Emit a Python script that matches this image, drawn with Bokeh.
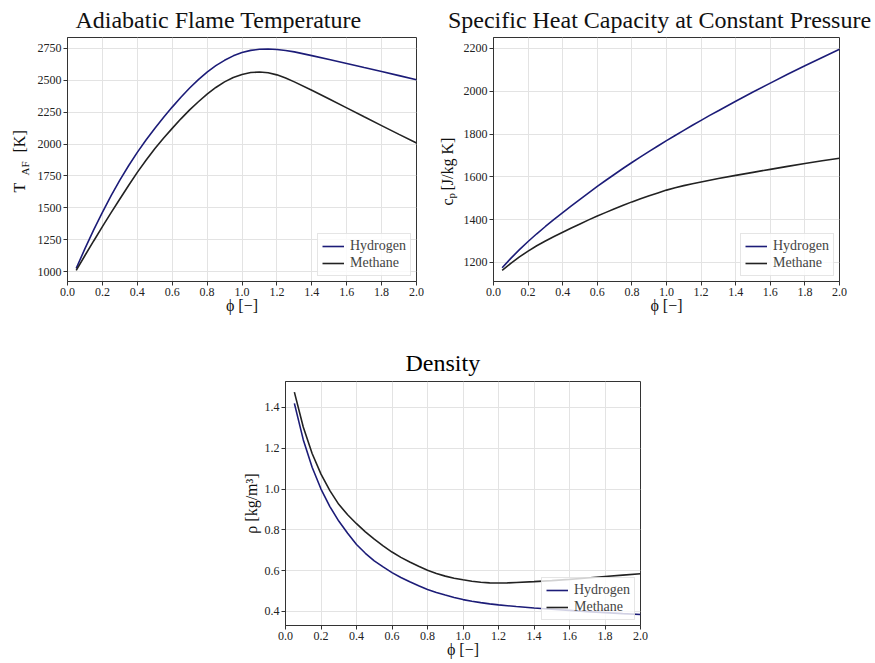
import math
from bokeh.plotting import figure
from bokeh.models import Range1d, FixedTicker, PrintfTickFormatter, Spacer
from bokeh.core.properties import value
from bokeh.layouts import column, row
from bokeh.embed import file_html
from bokeh.resources import INLINE

# ---------------- data ----------------
phi = [0.05, 0.1, 0.15, 0.2, 0.25, 0.3, 0.35, 0.4,
       0.45, 0.5, 0.55, 0.6, 0.65, 0.7, 0.75, 0.8, 0.85, 0.9, 0.95,
       1.0, 1.05, 1.1, 1.15, 1.2, 1.25, 1.3,
       1.4, 1.5, 1.6, 1.7, 1.8, 1.9, 2.0]

taf_hydrogen = [1025, 1180, 1327, 1465, 1595, 1717, 1830, 1935,
                2032, 2122, 2208, 2290, 2367, 2440, 2506, 2565, 2615, 2657, 2692,
                2718, 2735, 2744, 2746, 2742, 2734, 2723,
                2694, 2663, 2632, 2600, 2569, 2537, 2505]
taf_methane = [1010, 1126, 1240, 1352, 1462, 1569, 1675, 1778,
               1873, 1963, 2045, 2123, 2198, 2268, 2332, 2392, 2444, 2488, 2522,
               2546, 2561, 2565, 2559, 2543, 2518, 2488,
               2422, 2353, 2284, 2214, 2145, 2076, 2008]

cp_hydrogen = [1175, 1219, 1260, 1298, 1334, 1368, 1401, 1433,
               1464, 1495, 1525, 1555, 1584, 1612, 1640, 1667, 1693, 1719, 1744,
               1769, 1793, 1817, 1841, 1864, 1887, 1909,
               1953, 1996, 2038, 2079, 2119, 2158, 2196]
cp_methane = [1163, 1196, 1226, 1253, 1278, 1300, 1321, 1341,
              1361, 1380, 1399, 1417, 1434, 1451, 1467, 1483, 1498, 1512, 1525,
              1538, 1549, 1559, 1568, 1576, 1584, 1592,
              1607, 1621, 1635, 1649, 1662, 1675, 1687]

rho_hydrogen = [1.42, 1.242, 1.107, 1.0, 0.914, 0.843, 0.783, 0.728,
                0.685, 0.648, 0.618, 0.59, 0.566, 0.545, 0.526, 0.508, 0.493, 0.48, 0.468,
                0.458, 0.45, 0.443, 0.437, 0.432, 0.428, 0.424,
                0.417, 0.411, 0.405, 0.399, 0.394, 0.389, 0.385]
rho_methane = [1.475, 1.304, 1.174, 1.073, 0.992, 0.925, 0.874, 0.830,
               0.790, 0.754, 0.721, 0.691, 0.665, 0.642, 0.621, 0.602, 0.586, 0.573, 0.563,
               0.555, 0.548, 0.543, 0.540, 0.539, 0.540, 0.542,
               0.546, 0.551, 0.557, 0.564, 0.571, 0.578, 0.585]

x_ticks = [0.0, 0.2, 0.4, 0.6, 0.8, 1.0, 1.2, 1.4, 1.6, 1.8, 2.0]
taf_ticks = [1000, 1250, 1500, 1750, 2000, 2250, 2500, 2750]
cp_ticks = [1200, 1400, 1600, 1800, 2000, 2200]
rho_ticks = [0.4, 0.6, 0.8, 1.0, 1.2, 1.4]

titles = ["Adiabatic Flame Temperature", "Specific Heat Capacity at Constant Pressure", "Density"]
series_names = ["Hydrogen", "Methane"]
series_colors = ["#1c1c78", "#222222"]

FONT = "Liberation Serif"


def bare(width, height, bottom=0):
    """A figure without axes, grid or outline whose data units are pixels of its frame."""
    h = figure(width=width, height=height, output_backend="svg", toolbar_location=None,
               title=None, x_axis_location=None, y_axis_location=None,
               x_range=Range1d(0, width), y_range=Range1d(0, height - bottom),
               min_border_left=0, min_border_right=0, min_border_top=0, min_border_bottom=bottom)
    h.xgrid.visible = False
    h.ygrid.visible = False
    h.outline_line_color = None
    h.border_fill_color = "white"
    h.background_fill_color = "white"
    return h


def put_text(h, text, x, y, size, angle=0.0, align="left"):
    h.text(x=[x], y=[y], text=[text], angle=angle,
           text_font=value(FONT), text_font_size=value(size),
           text_align=align, text_baseline="middle", text_color="#111111")


def make_fig(yvals, ylim, yticks, yfmt, width, height, bl, br, bt, bb, title=None, ylabel=None):
    p = figure(width=width, height=height, output_backend="svg", toolbar_location=None,
               x_range=Range1d(0, 2.0), y_range=Range1d(*ylim), title=title,
               min_border_left=bl, min_border_right=br, min_border_top=bt, min_border_bottom=bb)
    if title:
        p.title.text_font = FONT
        p.title.text_font_size = "24px"
        p.title.text_font_style = "normal"
        p.title.text_color = "#000000"
        p.title.align = "center"
        p.title.standoff = 11
    for vals, name, col in zip(yvals, series_names, series_colors):
        p.line(phi, vals, line_color=col, line_width=1.6, legend_label=name)

    p.xaxis.ticker = FixedTicker(ticks=x_ticks)
    p.xaxis.formatter = PrintfTickFormatter(format="%.1f")
    p.yaxis.ticker = FixedTicker(ticks=yticks)
    p.yaxis.formatter = PrintfTickFormatter(format=yfmt)
    for ax in (p.xaxis[0], p.yaxis[0]):
        ax.major_label_text_font = FONT
        ax.major_label_text_font_size = "12px"
        ax.major_label_text_color = "#222222"
        ax.axis_line_color = "#333333"
        ax.major_tick_line_color = "#333333"
        ax.major_tick_out = 4
        ax.major_tick_in = 0
        ax.minor_tick_line_color = None
        ax.axis_label_text_font = FONT
        ax.axis_label_text_font_size = "16px"
        ax.axis_label_text_font_style = "normal"
        ax.axis_label_text_color = "#111111"
        ax.major_label_standoff = 2
    p.xaxis.axis_label = "ϕ [−]"
    p.xaxis.axis_label_standoff = -2
    if ylabel:
        p.yaxis.axis_label = ylabel
        p.yaxis.axis_label_standoff = 2
    p.xgrid.grid_line_color = "#e3e3e3"
    p.ygrid.grid_line_color = "#e3e3e3"
    p.xgrid.ticker = FixedTicker(ticks=x_ticks)
    p.ygrid.ticker = FixedTicker(ticks=yticks)
    p.outline_line_color = "#333333"
    p.outline_line_width = 1
    p.background_fill_color = "white"
    p.border_fill_color = "white"

    lg = p.legend[0]
    lg.location = "bottom_right"
    lg.margin = 5
    lg.padding = 4
    lg.spacing = 1
    lg.label_text_font = FONT
    lg.label_text_font_size = "14px"
    lg.label_height = 16
    lg.glyph_height = 16
    lg.glyph_width = 22
    lg.label_standoff = 6
    lg.border_line_color = "#cccccc"
    lg.border_line_width = 1
    lg.background_fill_alpha = 0.8
    return p


STRIP_H = 37
ROW1_H = 286
BOTTOM1 = 42
UP = math.pi / 2

# titles of the two upper panels
strip = bare(875, STRIP_H)
put_text(strip, titles[0], 218, 18, "24px", align="center")
put_text(strip, titles[1], 659, 18, "24px", align="center")

# rotated y-axis labels with subscripts (frame-aligned with the plots beside them)
h1 = bare(34, ROW1_H, BOTTOM1)
put_text(h1, "T", 19, 89, "16px", UP)
put_text(h1, "AF", 24, 106, "11px", UP)
put_text(h1, "[K]", 19, 129, "16px", UP)

h2 = bare(30, ROW1_H, BOTTOM1)
put_text(h2, "c", 17, 76, "16px", UP)
put_text(h2, "p", 20, 83, "11px", UP)
put_text(h2, "[J/kg K]", 17, 91, "16px", UP)

p1 = make_fig([taf_hydrogen, taf_methane], (922, 2836), taf_ticks, "%d",
              396, ROW1_H, 30, 14, 0, BOTTOM1)
p2 = make_fig([cp_hydrogen, cp_methane], (1111, 2251), cp_ticks, "%d",
              415, ROW1_H, 30, 36, 0, BOTTOM1)
p3 = make_fig([rho_hydrogen, rho_methane], (0.331, 1.527), rho_ticks, "%.1f",
              435, 338, 60, 20, 58, 36, title=titles[2], ylabel="ρ [kg/m³]")
p3.title.align = "left"
p3.title.offset = 120

layout = column(strip, row(h1, p1, h2, p2), row(Spacer(width=225, height=10), p3))

open("out.html", "w").write(file_html(layout, INLINE))
